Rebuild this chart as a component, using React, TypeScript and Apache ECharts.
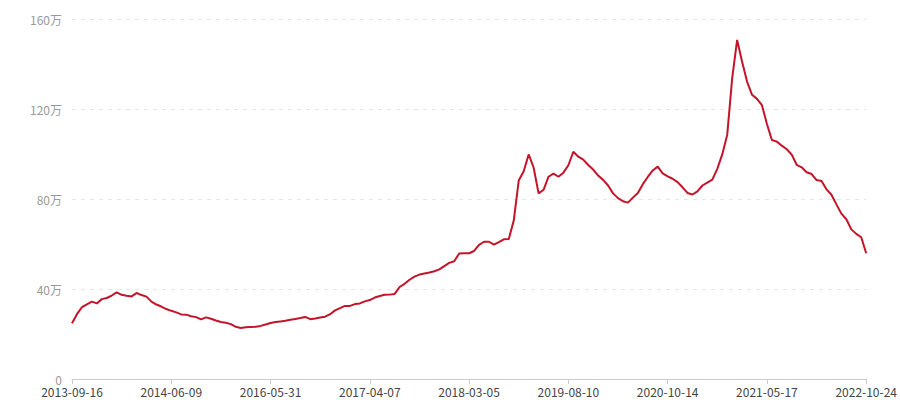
import React, { useEffect, useRef } from "react";
import * as echarts from "echarts";

const tickLabels = [
  "2013-09-16",
  "2014-06-09",
  "2016-05-31",
  "2017-04-07",
  "2018-03-05",
  "2019-08-10",
  "2020-10-14",
  "2021-05-17",
  "2022-10-24",
];

// values in 万 (one every ~5px)
const values = [
  24.8, 28.8, 31.9, 33.2, 34.4, 33.6, 35.5, 36.0, 37.1, 38.5,
  37.4, 37.0, 36.7, 38.2, 37.3, 36.6, 34.4, 33.1, 32.2, 31.1,
  30.3, 29.6, 28.7, 28.6, 27.9, 27.5, 26.5, 27.4, 26.8, 26.0,
  25.3, 25.0, 24.4, 23.2, 22.7, 23.0, 23.1, 23.2, 23.6, 24.2,
  24.9, 25.3, 25.6, 25.9, 26.3, 26.7, 27.1, 27.6, 26.6, 26.9,
  27.3, 27.7, 28.8, 30.5, 31.5, 32.5, 32.5, 33.3, 33.6, 34.5,
  35.1, 36.2, 36.9, 37.4, 37.5, 37.8, 40.9, 42.3, 44.1, 45.5,
  46.4, 46.9, 47.3, 47.9, 48.7, 50.2, 51.6, 52.3, 55.8, 55.9,
  55.9, 56.9, 59.6, 61.0, 61.0, 59.7, 60.8, 62.1, 62.2, 70.5,
  88.2, 92.3, 99.8, 94.0, 82.5, 84.1, 89.9, 91.3, 89.9, 91.7,
  95.0, 101.0, 98.8, 97.5, 95.1, 93.1, 90.4, 88.5, 86.0, 82.5,
  80.4, 79.0, 78.4, 80.6, 82.7, 86.6, 89.8, 92.7, 94.4, 91.4,
  90.1, 89.0, 87.5, 85.2, 82.7, 82.0, 83.4, 86.0, 87.3, 88.6,
  93.4, 99.8, 108.5, 133.6, 150.7, 141.0, 132.2, 126.3, 124.5, 121.7,
  113.3, 106.2, 105.5, 103.7, 102.1, 99.7, 95.2, 94.1, 91.9, 91.1,
  88.4, 88.0, 84.3, 81.9, 77.6, 73.5, 71.0, 66.5, 64.5, 63.0,
  55.9,
];

const labelStep = (values.length - 1) / (tickLabels.length - 1);
const categories = values.map((_, i) => String(i));

export default function App() {
  const ref = useRef<HTMLDivElement>(null);

  useEffect(() => {
    if (!ref.current) return;
    const chart = echarts.init(ref.current, null, { renderer: "svg" });
    chart.setOption({
      animation: false,
      backgroundColor: "#fff",
      grid: { left: 72, right: 32, top: 19, bottom: 21, containLabel: false },
      xAxis: {
        type: "category",
        boundaryGap: false,
        data: categories,
        axisLine: { lineStyle: { color: "#cccccc", width: 1 } },
        axisTick: {
          interval: labelStep - 1,
          lineStyle: { color: "#cccccc" },
          length: 5,
        },
        axisLabel: {
          interval: labelStep - 1,
          color: "#444444",
          fontSize: 12,
          lineHeight: 12,
          fontFamily: "Noto Sans CJK SC, sans-serif",
          margin: 6,
          formatter: (_v: string, idx: number) =>
            idx % labelStep === 0 ? tickLabels[idx / labelStep] : "",
        },
        splitLine: { show: false },
      },
      yAxis: {
        type: "value",
        min: 0,
        max: 160,
        interval: 40,
        axisLine: { show: false },
        axisTick: { show: false },
        axisLabel: {
          color: "#9a9a9a",
          fontSize: 12,
          lineHeight: 9,
          fontFamily: "Noto Sans CJK SC, sans-serif",
          margin: 10,
          formatter: (v: number) => (v === 0 ? "0" : v + "万"),
        },
        splitLine: {
          lineStyle: { color: "#e6e6e6", type: [4, 5], width: 1 },
        },
      },
      series: [
        {
          type: "line",
          data: values,
          symbol: "none",
          smooth: false,
          lineStyle: { color: "#c3142a", width: 2 },
          itemStyle: { color: "#c3142a" },
        },
      ],
    });
    return () => chart.dispose();
  }, []);

  return (
    <div
      ref={ref}
      style={{ position: "fixed", left: 0, top: 0, width: 900, height: 400 }}
    />
  );
}
